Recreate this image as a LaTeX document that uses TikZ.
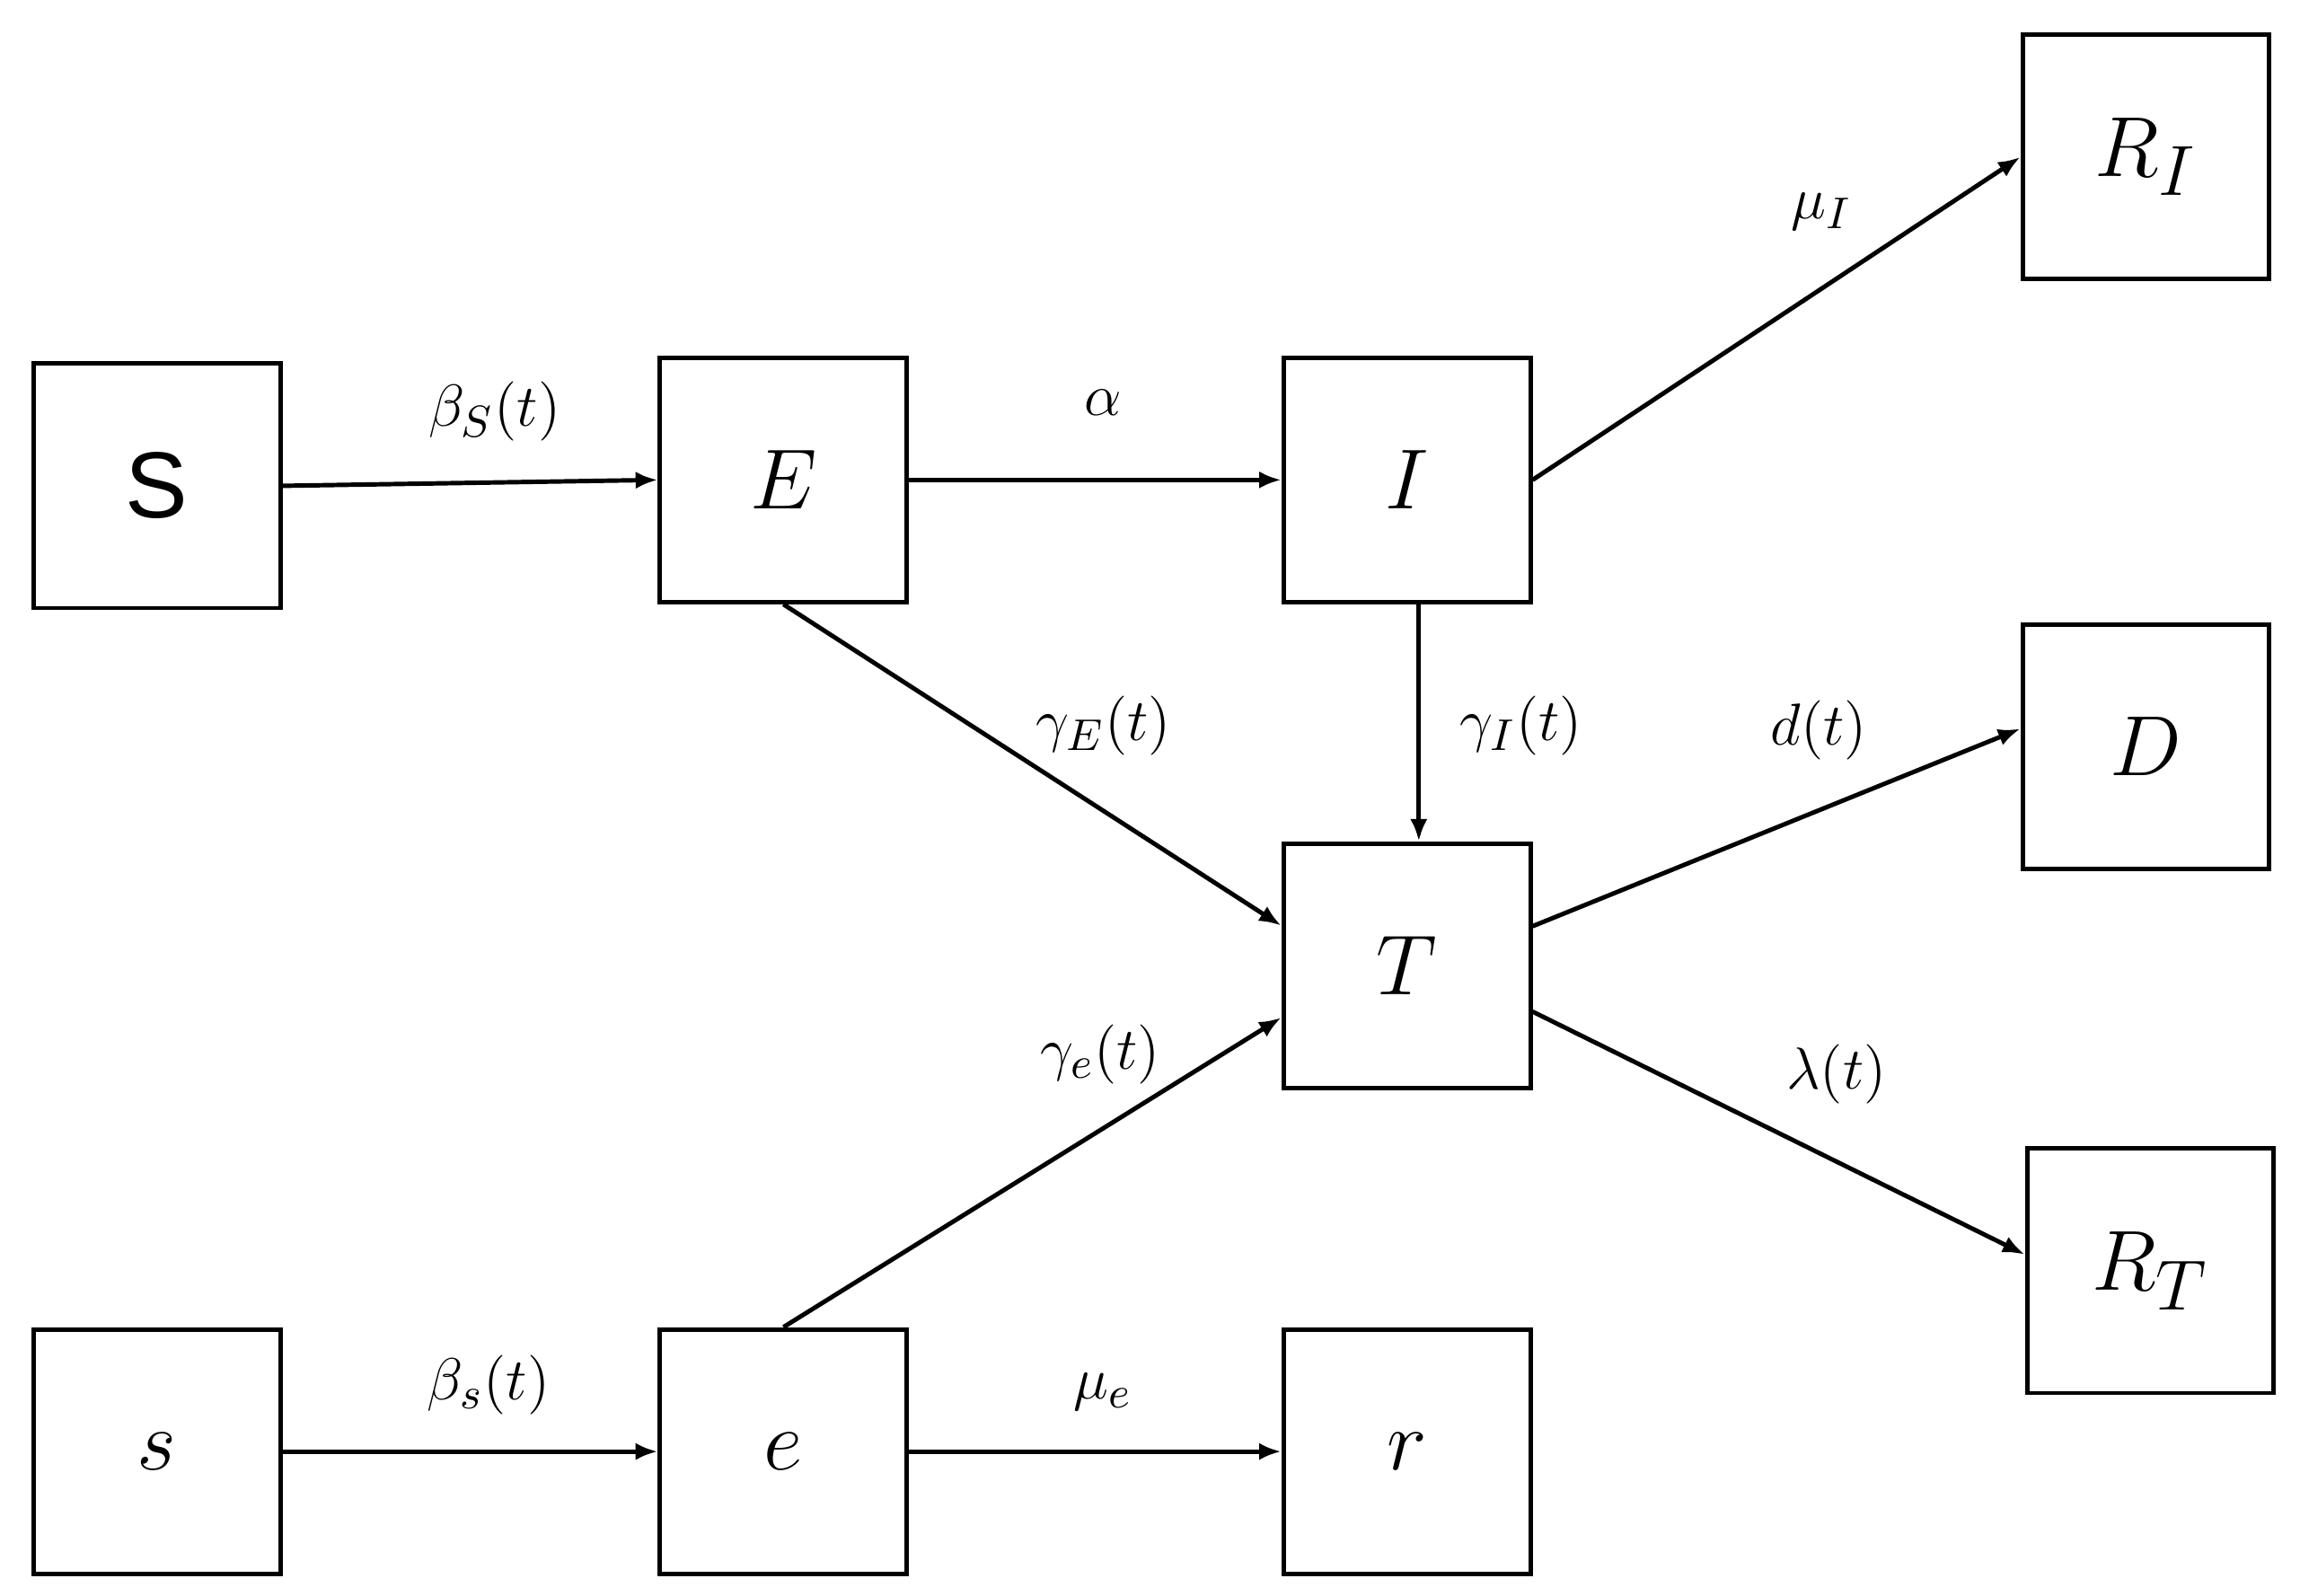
\documentclass[tikz,border=0pt]{standalone}
\usepackage{fontspec}
\newfontfamily\arialf{Liberation Sans}
\usetikzlibrary{arrows.meta}
\begin{document}
\begin{tikzpicture}[x=0.3pt,y=-0.3pt,
  box/.style={draw,line width=0.9pt,minimum width=50pt,minimum height=49.5pt,inner sep=0pt,font=\fontsize{19}{20}\selectfont},
  arr/.style={line width=0.9pt,-{Latex[length=4.5pt,width=3.5pt]}},
  lab/.style={font=\fontsize{13}{14}\selectfont}]
\useasboundingbox (0,0) rectangle (1553,1077);
\node[box] (S) at (106,328) {\arialf S};
\node[box] (E) at (529,324) {$E$};
\node[box] (I) at (950,324) {$I$};
\node[box] (RI) at (1449,106) {$R_I$};
\node[box] (D) at (1449,504) {$D$};
\node[box] (T) at (950,652) {$T$};
\node[box] (RT) at (1452,858) {$R_T$};
\node[box] (s) at (106,980) {$s$};
\node[box] (e) at (529,980) {$e$};
\node[box] (r) at (950,980) {$r$};
\draw[arr] (S.east) -- (E.west);
\draw[arr] (E.east) -- (I.west);
\draw[arr] (I.east) -- (RI.west);
\draw[arr] ([xshift=2.4pt]I.south) -- ([xshift=2.4pt]T.north);
\draw[arr] (E.south) -- ([yshift=8.1pt]T.west);
\draw[arr] (e.north) -- ([yshift=-10.5pt]T.west);
\draw[arr] ([yshift=8pt]T.east) -- ([yshift=3.6pt]D.west);
\draw[arr] ([yshift=-9.3pt]T.east) -- ([yshift=3.3pt]RT.west);
\draw[arr] (s.east) -- (e.west);
\draw[arr] (e.east) -- (r.west);
\node[lab] (l1) at (334,278) {$\beta_S(t)$};
\node[lab] (l2) at (745,272) {$\alpha$};
\node[lab] (l3) at (1230,143) {$\mu_I$};
\node[lab] (l4) at (745,490) {$\gamma_E(t)$};
\node[lab] (l5) at (1027,490) {$\gamma_I(t)$};
\node[lab] (l6) at (1228,493) {$d(t)$};
\node[lab] (l7) at (743,712) {$\gamma_e(t)$};
\node[lab] (l8) at (1240,725) {$\lambda(t)$};
\node[lab] (l9) at (330,935) {$\beta_s(t)$};
\node[lab] (l10) at (745,940) {$\mu_e$};
\end{tikzpicture}
\end{document}
